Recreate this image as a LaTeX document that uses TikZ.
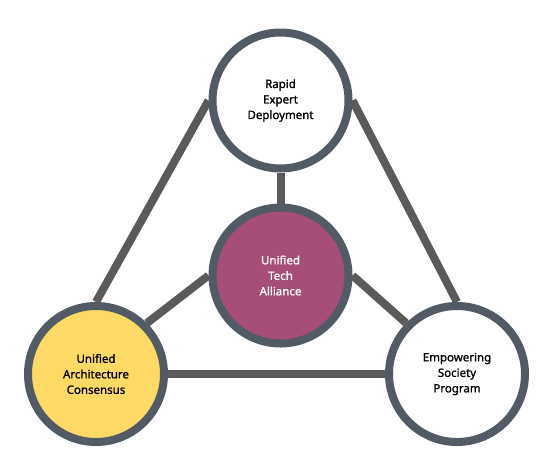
\documentclass[tikz,border=0pt]{standalone}
\usepackage{fontspec}
\setmainfont{Noto Sans}
\newfontfamily\hubfont{Noto Sans}[FakeBold=1.2]
\usetikzlibrary{positioning,backgrounds}

\definecolor{ringgray}{HTML}{525A65}
\definecolor{linkgray}{HTML}{5A5A5A}
\definecolor{plum}{HTML}{A64D79}
\definecolor{sun}{HTML}{FFD966}

\tikzset{
  hub/.style={circle, draw=ringgray, line width=8pt, minimum size=136pt, inner sep=0pt,
    align=center, font=\hubfont\fontsize{11.5}{15.5}\selectfont},
  link/.style={draw=linkgray, line width=8pt},
}

\begin{document}
\begin{tikzpicture}[x=1pt,y=-1pt]
        \useasboundingbox (0,0) rectangle (559,474);
        \node [hub, fill=plum, text=white] (alliance) at (280.5,275.5) {Unified\\Tech\\Alliance};
        \node [hub, fill=white, above=31pt of alliance] (deploy) {Rapid\\Expert\\Deployment};
        \node [hub, fill=sun] (consensus) at ([shift={(-184.5,98.5)}]alliance) {Unified\\Architecture\\Consensus};
        \node [hub, fill=white] (society) at ([shift={(176.5,98.5)}]alliance) {Empowering\\Society\\Program};
        % links behind the circles
        \begin{scope}[on background layer]
          \draw [link] (deploy.west) -- (consensus.north);
          \draw [link] (deploy.east) -- (society.north);
          \draw [link] (consensus.east) -- (society.west);
          \draw [link] (deploy) -- (alliance);
          \draw [link] (consensus.north east) -- (alliance.west);
          \draw [link] (alliance.east) -- (society.north west);
        \end{scope}
      \end{tikzpicture}
\end{document}
